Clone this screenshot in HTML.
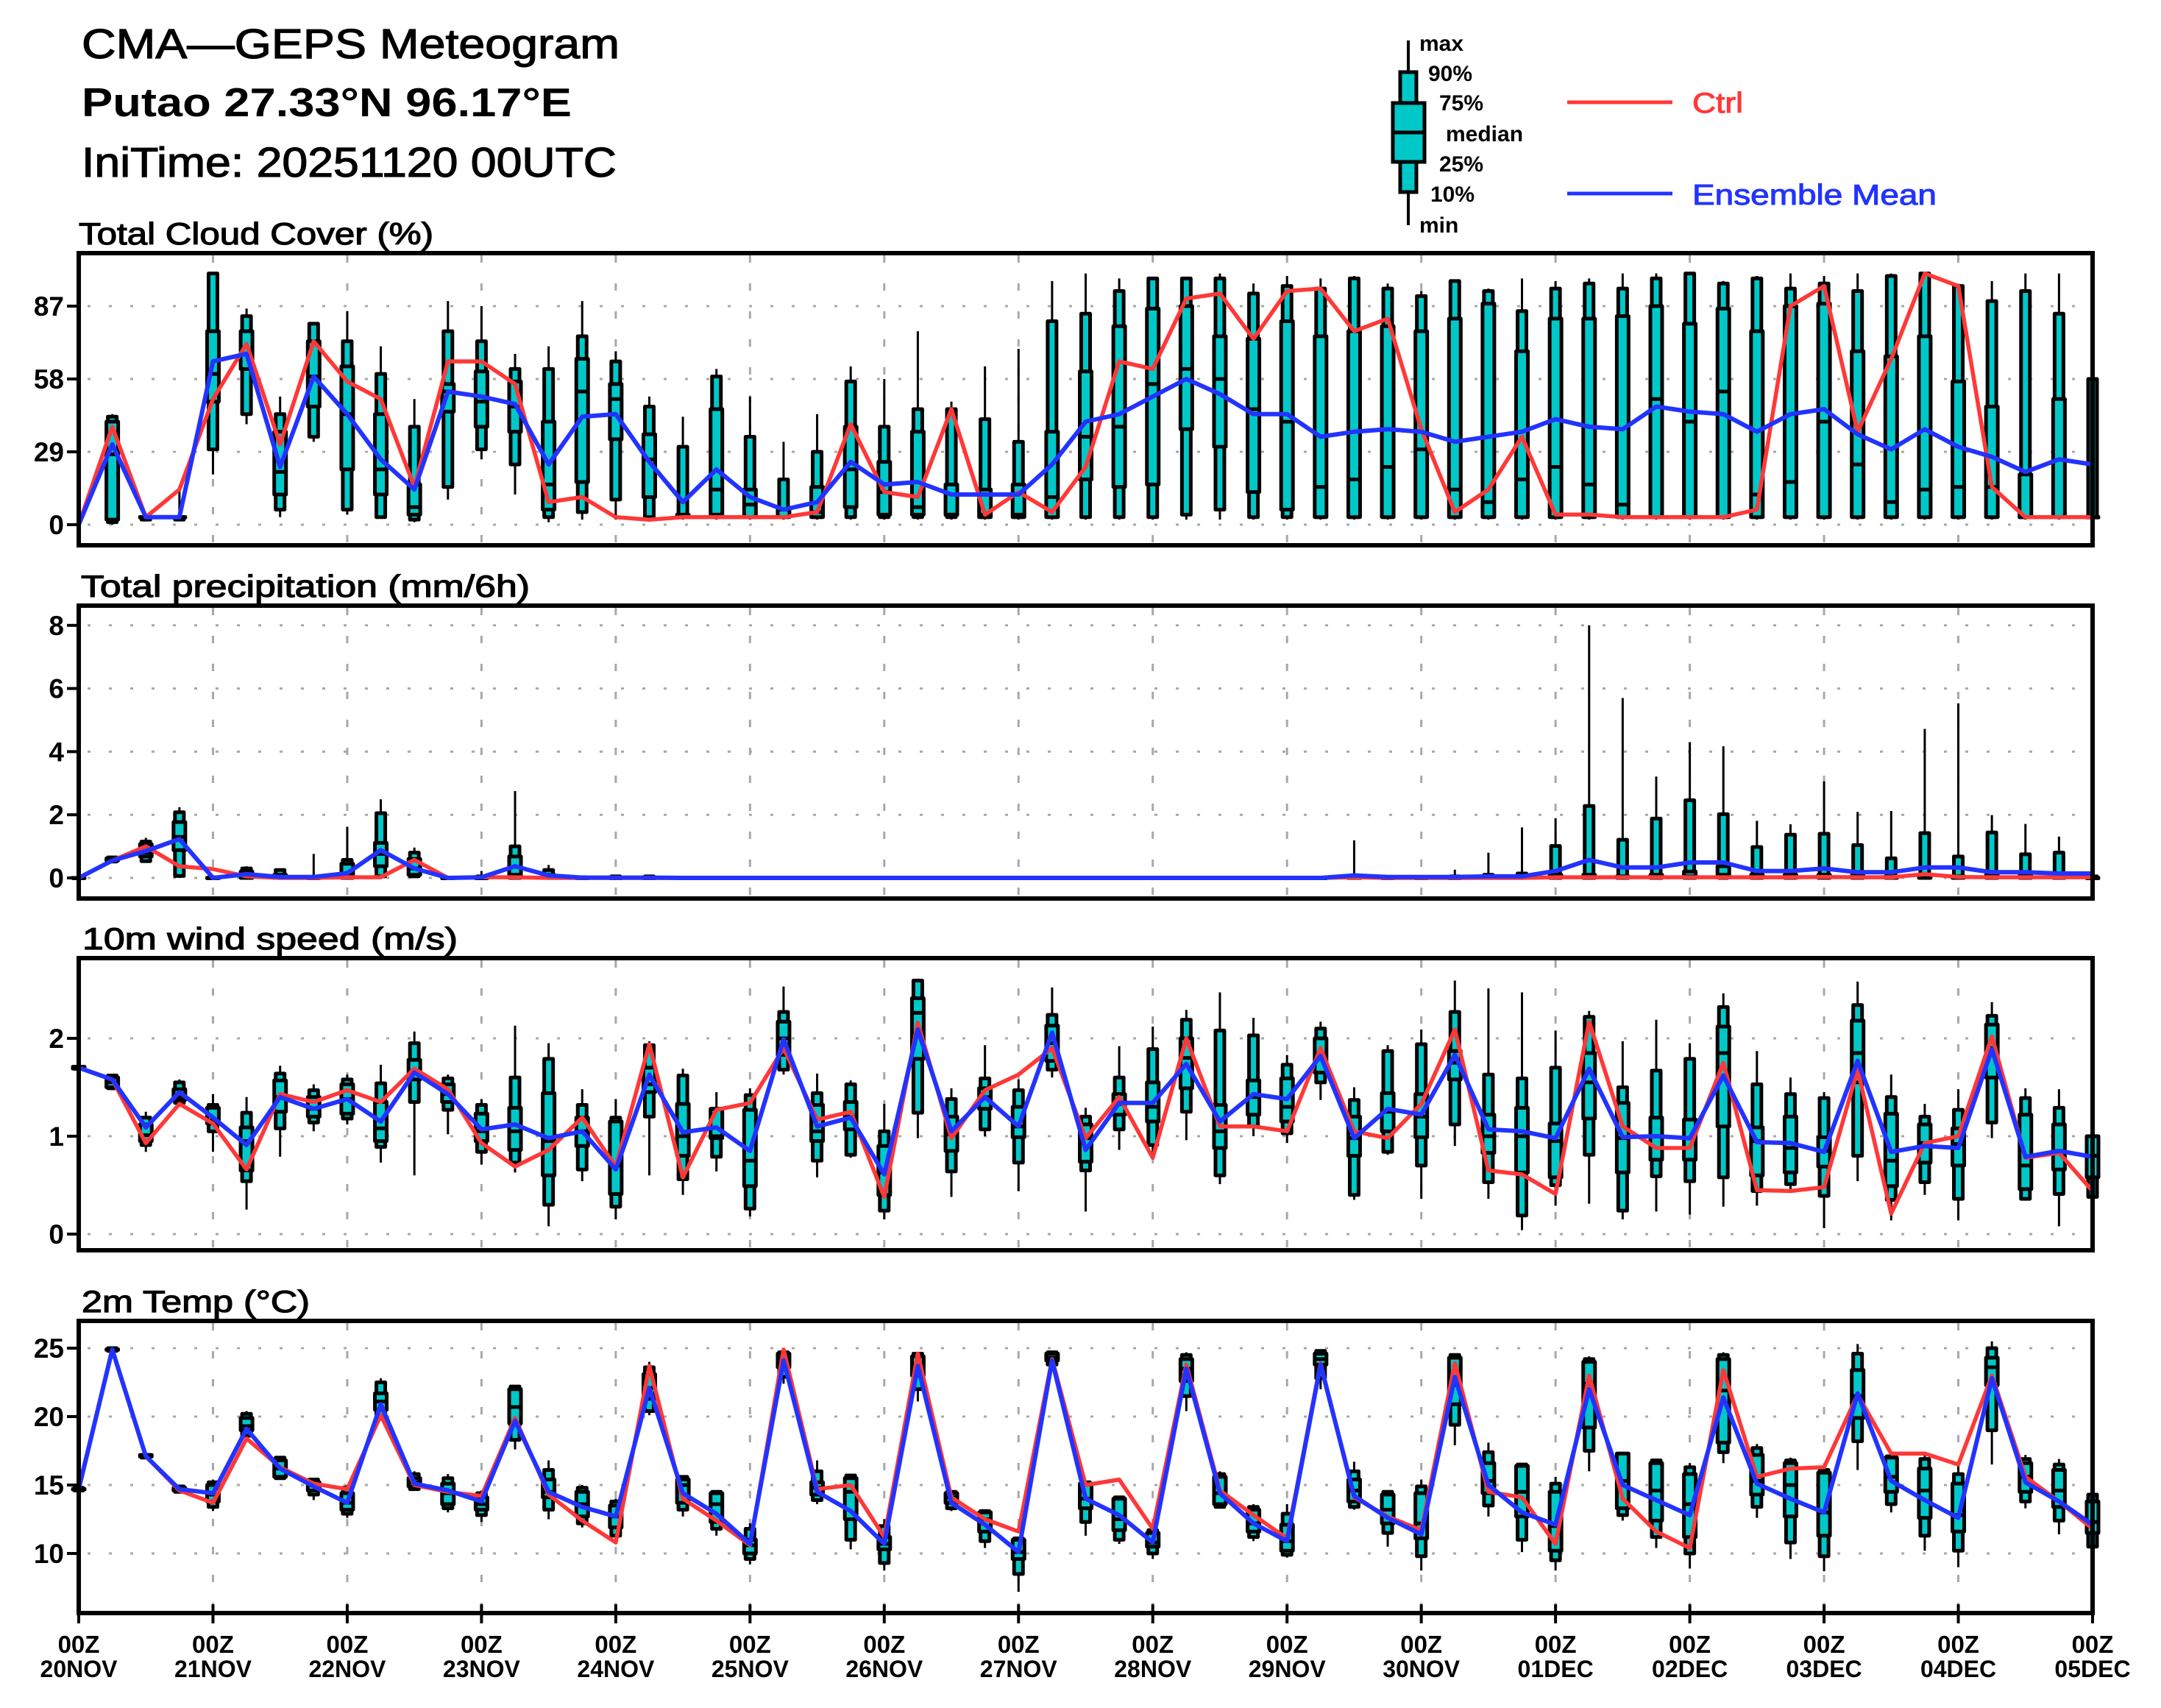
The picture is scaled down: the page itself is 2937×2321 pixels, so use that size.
<!DOCTYPE html>
<html><head><meta charset="utf-8"><title>CMA-GEPS Meteogram</title>
<style>
html,body{margin:0;padding:0;background:#fff;}
svg{display:block;font-family:"Liberation Sans",sans-serif;}
</style></head>
<body>
<svg id="chart" width="2937" height="2321" viewBox="0 0 2937 2321" xmlns="http://www.w3.org/2000/svg">
<rect x="0" y="0" width="2937" height="2321" fill="#fff"/>
<text x="111" y="79" font-size="57" stroke="#000" stroke-width="1.2" textLength="731" lengthAdjust="spacingAndGlyphs">CMA—GEPS Meteogram</text>
<text x="111" y="158" font-size="55" font-weight="bold" textLength="666" lengthAdjust="spacingAndGlyphs">Putao 27.33°N 96.17°E</text>
<text x="111" y="240" font-size="57" stroke="#000" stroke-width="1.2" textLength="727" lengthAdjust="spacingAndGlyphs">IniTime: 20251120 00UTC</text>

<g>
<line x1="1914" y1="55" x2="1914" y2="306" stroke="#000" stroke-width="4"/>
<rect x="1903" y="98" width="22" height="163" fill="#00c8c8" stroke="#000" stroke-width="5"/>
<rect x="1893" y="140" width="43" height="80" fill="#00c8c8" stroke="#000" stroke-width="5"/>
<line x1="1893" y1="180" x2="1936" y2="180" stroke="#000" stroke-width="5"/>
<g font-size="30" font-weight="bold">
<text x="1929" y="69">max</text>
<text x="1941" y="110">90%</text>
<text x="1956" y="150">75%</text>
<text x="1965" y="192">median</text>
<text x="1956" y="233">25%</text>
<text x="1944" y="274">10%</text>
<text x="1929" y="316">min</text>
</g>
</g>
<g>
<line x1="2130" y1="139" x2="2273" y2="139" stroke="#ff3838" stroke-width="5"/>
<text x="2300" y="153" font-size="39" fill="#ff3838" stroke="#ff3838" stroke-width="1" textLength="69" lengthAdjust="spacingAndGlyphs">Ctrl</text>
<line x1="2130" y1="263" x2="2273" y2="263" stroke="#2233ff" stroke-width="5"/>
<text x="2300" y="278" font-size="39" fill="#2233ff" stroke="#2233ff" stroke-width="1" textLength="332" lengthAdjust="spacingAndGlyphs">Ensemble Mean</text>
</g>
</svg>
<script>
// ---- Total cloud cover (%) ----
const cloudMin=[null,0,2,2,20,40,3,33,4,3,1,10,26,12,1,2,2,2,2,2,2,2,2,2,2,2,2,2,2,2,2,2,2,2,2,2,2,2,2,2,2,2,2,2,2,2,2,2,2,2,2,2,2,2,2,2,2,2,2,2,2];
const cloudP10=[null,1,2,2,30,44,6,35,6,3,2,15,30,24,3,5,10,3,3,3,3,3,3,3,3,3,3,3,3,3,3,3,3,4,6,3,3,3,3,3,3,3,3,3,3,3,3,3,3,3,3,3,3,3,3,3,3,3,3,3,3];
const cloudP25=[null,2,3,3,49,62,12,47,22,12,4,45,39,37,6,17,34,11,3,4,3,3,3,7,4,4,4,3,3,3,18,15,16,38,31,13,6,3,3,3,3,3,3,3,3,3,3,3,3,3,3,3,3,3,3,3,3,3,3,3,3];
const cloudMed=[null,28,3,3,60,68,21,59,44,22,7,53,49,47,16,53,50,26,3,14,8,6,5,22,13,7,4,4,4,11,35,39,56,62,58,46,41,15,18,23,30,14,9,18,23,16,8,50,41,53,12,17,41,24,9,14,15,15,3,3,3];
const cloudP75=[null,41,3,3,77,77,37,73,63,44,16,56,61,57,41,66,56,36,4,46,14,6,15,39,25,37,16,14,16,37,61,79,86,87,75,74,81,75,77,79,77,82,88,69,82,82,83,87,80,86,77,87,88,69,67,75,57,47,20,50,3];
const cloudP90=[null,43,3,3,100,83,44,80,73,60,39,77,73,62,62,75,65,47,31,59,35,18,29,57,39,46,46,42,33,81,84,93,98,98,98,92,95,94,98,94,91,97,93,85,94,96,94,98,100,96,98,94,96,93,99,100,95,89,93,84,58];
const cloudMax=[null,44,4,14,100,86,51,80,85,71,50,89,87,68,71,89,69,51,43,62,51,33,44,63,58,77,49,63,70,97,100,98,98,98,100,96,99,98,99,96,93,97,94,98,97,98,100,100,100,97,99,100,99,100,100,100,95,97,100,100,87];
const cloudCtrl=[0,39,3,14,50,72,32,73,57,50,15,65,65,56,9,11,3,2,3,3,3,3,5,40,13,11,46,4,13,5,23,65,62,90,92,74,93,94,77,82,38,5,14,35,4,4,3,3,3,3,6,87,95,37,66,100,95,15,3,3,3];
const cloudMean=[0,32,3,3,65,68,23,59,44,26,14,53,51,48,24,43,44,25,9,22,11,6,9,25,16,17,12,12,12,24,41,44,51,58,52,44,44,35,37,38,37,33,35,37,42,39,38,47,45,44,37,44,46,36,30,38,31,27,21,26,24];
const cloudTicks=[0,29,58,87];

// ---- Total precipitation (mm/6h) ----
const precMin=[0,0.5,0.5,0,0,0,0,0,0,0,0,0,0,0,0,0,0,0,0,0,0,0,0,0,0,0,0,0,0,0,0,0,0,0,0,0,0,0,0,0,0,0,0,0,0,0,0,0,0,0,0,0,0,0,0,0,0,0,0,0,0];
const precP10=[0,0.52,0.53,0.06,0,0,0,0,0,0.05,0.05,0,0,0,0,0,0,0,0,0,0,0,0,0,0,0,0,0,0,0,0,0,0,0,0,0,0,0,0,0,0,0,0,0,0,0,0,0,0,0,0,0,0,0,0,0,0,0,0,0,0];
const precP25=[0,0.55,0.68,0.88,0,0,0,0,0,0.37,0.1,0,0,0,0,0,0,0,0,0,0,0,0,0,0,0,0,0,0,0,0,0,0,0,0,0,0,0,0,0,0,0,0,0,0,0,0,0,0,0.02,0,0,0,0,0,0,0,0,0,0,0];
const precMed=[0,0.58,0.8,1.3,0,0.05,0,0,0.1,0.76,0.3,0,0,0.1,0,0,0,0,0,0,0,0,0,0,0,0,0,0,0,0,0,0,0,0,0,0,0,0,0,0,0,0,0,0,0.02,0.02,0.02,0.02,0.05,0.1,0.02,0.02,0.02,0.02,0.02,0.02,0.02,0.02,0.02,0.02,0];
const precP75=[0,0.62,1.07,1.77,0,0.2,0.1,0,0.45,1.11,0.6,0,0,0.68,0.1,0,0,0,0,0,0,0,0,0,0,0,0,0,0,0,0,0,0,0,0,0,0,0,0.02,0,0,0,0.02,0.05,0.1,0.1,0.05,0.1,0.2,0.37,0.1,0.1,0.1,0.08,0.05,0.1,0.05,0.1,0.08,0.05,0];
const precP90=[0,0.65,1.15,2.08,0.02,0.3,0.25,0.02,0.57,2.05,0.8,0,0.05,1.0,0.25,0.02,0.05,0.05,0,0,0,0,0,0,0,0,0,0,0,0,0,0,0,0,0,0,0,0,0.05,0,0,0.05,0.1,0.14,1.01,2.28,1.21,1.88,2.46,2.02,0.98,1.37,1.4,1.04,0.62,1.42,0.68,1.44,0.75,0.8,0.05];
const precMax=[0,0.68,1.27,2.24,0.05,0.37,0.3,0.76,1.62,2.49,0.96,0.02,0.22,2.75,0.41,0.02,0.1,0.1,0,0,0,0,0,0,0,0,0,0,0,0,0,0,0,0,0,0,0,0,1.19,0,0,0.26,0.8,1.6,1.89,8.0,5.7,3.21,4.3,4.17,1.81,1.7,3.06,2.09,2.12,4.72,5.53,1.99,1.71,1.31,0.1];
const precCtrl=[0,0.55,1.0,0.37,0.28,0.05,0,0,0.02,0.02,0.57,0,0.02,0.02,0,0,0,0,0,0,0,0,0,0,0,0,0,0,0,0,0,0,0,0,0,0,0,0,0.02,0,0,0,0,0,0.02,0.02,0.02,0.02,0.02,0.02,0.02,0.02,0.03,0.02,0.02,0.12,0.03,0.02,0.02,0.02,0.02];
const precMean=[0,0.55,0.85,1.23,0,0.12,0.03,0.03,0.15,0.88,0.3,0,0.02,0.37,0.08,0.01,0.01,0.01,0,0,0,0,0,0,0,0,0,0,0,0,0,0,0,0,0,0,0,0,0.08,0.03,0.03,0.03,0.05,0.05,0.22,0.57,0.33,0.33,0.49,0.49,0.22,0.22,0.3,0.18,0.18,0.33,0.33,0.18,0.18,0.14,0.14];
const precTicks=[0,2,4,6,8];

// ---- 10m wind speed (m/s) ----
const windMin=[1.68,1.47,0.84,1.30,0.84,0.25,0.79,1.05,1.12,0.73,0.60,1.02,0.71,0.63,0.08,0.54,0.15,0.60,0.40,0.64,0.18,1.63,0.58,0.78,0.15,0.98,0.38,1.00,0.44,1.60,0.23,0.86,0.76,0.96,0.51,1.00,0.93,1.37,0.35,0.81,0.36,0.90,0.36,0.04,0.29,0.31,0.15,0.23,0.20,0.28,0.29,0.44,0.06,0.54,0.14,0.40,0.14,0.98,0.36,0.08,0.38];
const windP10=[1.69,1.49,0.91,1.34,1.05,0.54,1.08,1.14,1.18,0.89,1.35,1.27,0.84,0.73,0.30,0.66,0.28,1.20,0.56,0.79,0.26,1.68,0.75,0.81,0.24,1.24,0.64,1.07,0.73,1.68,0.65,1.07,0.91,1.25,0.60,1.10,1.03,1.55,0.40,0.84,0.70,1.12,0.53,0.19,0.50,0.81,0.24,0.59,0.54,0.58,0.44,0.51,0.39,0.80,0.35,0.53,0.36,1.14,0.36,0.41,0.38];
const windP25=[1.69,1.50,0.95,1.37,1.13,0.65,1.25,1.20,1.23,0.95,1.58,1.35,0.95,0.86,0.60,0.90,0.41,1.45,0.80,0.98,0.49,1.83,0.95,1.07,0.40,1.79,0.85,1.28,0.99,1.77,0.74,1.22,1.15,1.49,0.88,1.22,1.15,1.65,0.80,1.05,0.99,1.58,0.83,0.63,0.58,1.18,0.63,0.76,0.76,1.10,0.60,0.63,0.69,1.55,0.49,0.73,0.70,1.60,0.46,0.66,0.58];
const windMed=[1.70,1.55,1.01,1.40,1.16,0.95,1.40,1.28,1.38,1.08,1.65,1.43,1.05,1.05,0.95,1.05,0.70,1.53,1.00,1.00,0.75,2.00,1.05,1.20,0.63,2.26,1.02,1.40,1.10,1.95,0.98,1.33,1.30,1.80,1.05,1.40,1.30,1.82,0.98,1.25,1.20,1.75,1.00,1.00,0.95,1.55,0.98,1.00,0.98,1.85,0.95,0.88,0.85,1.85,0.75,0.93,0.92,1.90,0.70,0.85,0.80];
const windP75=[1.71,1.60,1.12,1.48,1.29,1.09,1.57,1.40,1.53,1.35,1.78,1.53,1.23,1.29,1.44,1.19,1.15,1.70,1.33,1.28,1.27,2.17,1.32,1.35,0.90,2.41,1.20,1.49,1.30,2.13,1.12,1.43,1.55,2.00,1.32,1.57,1.59,2.00,1.20,1.44,1.43,1.87,1.22,1.29,1.13,1.85,1.34,1.19,1.17,2.12,1.09,1.20,0.99,2.18,1.23,1.12,1.08,2.14,1.22,1.12,1.00];
const windP90=[1.71,1.62,1.19,1.55,1.32,1.24,1.64,1.47,1.58,1.54,1.95,1.59,1.32,1.60,1.79,1.32,1.19,1.93,1.62,1.28,1.42,2.27,1.44,1.53,1.05,2.59,1.38,1.59,1.47,2.24,1.20,1.60,1.89,2.19,2.08,2.03,1.73,2.10,1.37,1.87,1.94,2.27,1.63,1.59,1.70,2.22,1.50,1.67,1.79,2.32,1.53,1.43,1.39,2.34,1.40,1.20,1.27,2.23,1.39,1.29,1.00];
const windMax=[1.72,1.63,1.25,1.58,1.43,1.40,1.72,1.53,1.63,1.73,2.07,1.63,1.38,2.13,1.95,1.48,1.38,1.97,1.69,1.45,1.49,2.53,1.64,1.57,1.33,2.61,1.49,1.93,1.58,2.52,1.29,1.92,2.12,2.29,2.47,2.21,1.83,2.17,1.50,1.93,2.09,2.59,2.51,2.47,2.08,2.28,1.97,2.19,1.95,2.46,1.87,1.60,1.45,2.58,1.63,1.33,1.48,2.37,1.49,1.48,1.42];
const windCtrl=[1.70,1.58,0.93,1.33,1.13,0.66,1.43,1.35,1.47,1.35,1.69,1.48,0.93,0.69,0.86,1.19,0.69,1.94,0.58,1.27,1.34,1.90,1.17,1.25,0.38,2.16,0.98,1.47,1.63,1.90,0.98,1.40,0.78,2.00,1.10,1.10,1.05,1.90,1.05,0.98,1.33,2.09,0.65,0.61,0.41,2.17,1.10,0.88,0.88,1.75,0.45,0.44,0.48,1.68,0.21,0.93,1.00,2.02,0.78,0.83,0.44];
const windMean=[1.70,1.58,1.09,1.45,1.19,0.91,1.40,1.28,1.38,1.15,1.65,1.43,1.07,1.12,0.98,1.05,0.66,1.63,1.04,1.09,0.85,1.99,1.10,1.19,0.61,2.09,1.05,1.40,1.10,2.06,0.86,1.34,1.34,1.74,1.15,1.43,1.38,1.82,0.98,1.28,1.22,1.83,1.07,1.05,0.98,1.69,0.99,1.00,0.98,1.62,0.94,0.93,0.84,1.77,0.84,0.90,0.88,1.89,0.79,0.85,0.79];
const windTicks=[0,1,2];

// ---- 2m Temp (°C) ----
const tempMin=[14.6,24.8,17.0,14.5,13.1,18.4,15.4,13.9,12.6,19.7,14.6,13.0,12.3,17.6,12.5,11.9,10.8,20.1,12.7,11.3,9.2,22.4,13.6,10.3,8.75,21.1,13.1,10.4,7.2,23.6,11.3,10.7,9.6,20.4,13.3,10.9,9.7,22.0,13.2,10.5,8.75,17.9,12.7,10.1,8.75,16.0,12.4,10.4,8.9,16.6,12.6,9.6,8.7,16.1,13.0,10.2,9.0,16.5,13.3,11.4,9.7];
const tempP10=[14.6,24.8,17.0,14.5,13.4,18.6,15.5,14.3,12.9,20.0,14.7,13.3,12.8,18.3,13.2,12.2,11.3,20.4,13.2,11.8,9.6,22.9,13.9,11.0,9.3,22.0,13.3,10.9,8.5,23.8,12.3,11.0,10.0,21.5,13.4,11.2,9.9,22.8,13.4,11.5,9.8,19.4,13.5,11.0,9.5,17.5,12.8,11.2,10.0,17.4,13.4,10.8,9.8,18.2,13.6,11.3,10.2,19.0,13.8,12.4,10.5];
const tempP25=[14.7,24.9,17.1,14.6,13.8,19.0,15.6,14.6,13.2,20.5,14.9,13.6,13.2,19.5,14.1,12.7,11.9,21.3,13.7,12.3,10.0,23.6,14.3,12.5,10.3,23.0,13.7,11.6,9.6,24.1,13.3,11.7,10.5,22.6,13.6,11.6,10.2,23.8,13.8,12.2,11.1,20.9,14.4,12.7,10.2,19.2,13.3,12.4,11.2,18.1,14.3,12.7,11.3,19.9,14.5,12.6,11.6,22.3,14.5,13.4,11.5];
const tempMed=[14.7,24.9,17.1,14.7,14.3,19.3,16.2,15.0,13.7,21.1,15.2,14.4,13.6,20.7,14.5,13.6,12.7,22.1,15.0,13.6,10.6,24.3,14.8,14.5,10.7,23.7,14.1,12.5,10.1,24.3,14.0,12.5,10.8,23.5,14.4,12.2,10.9,24.2,14.6,13.2,12.2,22.3,15.3,14.5,12.0,22.4,15.3,14.6,13.6,21.9,15.3,15.0,13.0,21.5,15.6,14.6,12.8,23.6,15.6,14.6,12.3];
const tempP75=[14.7,24.9,17.2,14.8,15.0,19.9,16.8,15.2,14.4,21.7,15.5,15.1,14.1,22.0,15.4,14.5,13.5,23.1,15.4,14.4,11.0,24.6,15.2,15.5,11.2,24.4,14.4,13.0,11.0,24.6,15.1,14.0,11.5,24.2,15.6,13.2,12.1,24.6,15.4,14.3,14.4,24.3,16.6,16.4,14.5,24.0,17.3,16.6,15.8,24.2,17.2,16.6,15.9,23.4,17.0,16.2,15.1,24.3,16.6,16.1,13.8];
const tempP90=[14.8,25.0,17.2,14.9,15.2,20.2,17.0,15.4,14.8,22.5,15.8,15.5,14.4,22.2,16.1,14.8,13.8,23.6,15.6,14.5,11.8,24.7,16.0,15.7,12.0,24.6,14.5,13.1,11.1,24.7,15.2,14.1,11.7,24.5,15.8,13.4,12.9,24.8,16.0,14.5,14.9,24.5,17.4,16.5,15.1,24.2,17.3,16.8,16.3,24.5,17.7,16.8,16.1,24.6,17.1,16.9,15.8,25.0,16.9,16.5,14.3];
const tempMax=[14.8,25.0,17.3,14.9,15.4,20.4,17.1,15.5,15.0,22.8,16.0,15.8,14.6,22.3,16.8,15.0,14.0,24.0,15.7,14.6,12.2,24.7,16.8,15.8,12.5,24.7,14.6,13.2,11.1,24.8,15.3,14.2,11.8,24.7,16.0,13.6,13.6,24.9,16.7,14.6,15.4,24.6,18.1,16.6,15.6,24.4,17.4,16.9,16.6,24.7,18.0,17.0,16.2,25.3,17.1,17.2,16.5,25.5,17.2,16.9,14.9];
const tempCtrl=[14.7,24.9,17.1,14.6,13.7,18.4,16.3,15.1,14.7,20.1,15.0,14.5,14.2,19.9,14.3,12.4,10.8,23.7,14.0,12.4,10.6,24.9,14.7,15.0,11.2,24.6,14.1,12.5,11.6,24.2,15.0,15.4,11.8,23.8,14.6,12.8,11.1,23.9,14.1,12.7,11.7,23.9,14.5,14.1,10.7,23.0,14.0,11.6,10.4,23.4,15.6,16.2,16.3,21.6,17.3,17.3,16.5,23.0,15.6,13.8,11.8];
const tempMean=[14.7,24.9,17.1,14.7,14.4,19.1,16.2,14.9,13.7,20.9,15.1,14.6,13.8,19.7,14.5,13.4,12.7,22.1,14.4,12.9,10.7,24.1,14.5,13.1,10.7,23.7,13.7,12.1,10.1,24.1,14.0,12.8,10.8,23.5,14.4,12.2,10.9,23.8,14.2,12.6,11.4,22.9,15.0,13.0,12.1,22.0,15.0,13.9,12.8,21.4,15.1,14.0,13.0,21.7,15.3,13.9,12.6,22.8,15.2,13.8,12.1];
const tempTicks=[10,15,20,25];

const dayLabels=["20NOV","21NOV","22NOV","23NOV","24NOV","25NOV","26NOV","27NOV","28NOV","29NOV","30NOV","01DEC","02DEC","03DEC","04DEC","05DEC"];

const NS="http://www.w3.org/2000/svg";
const svg=document.getElementById('chart');
const X0=107, X1=2844, NSTEP=60;
function xAt(i){return X0+(X1-X0)*i/NSTEP;}
function mk(tag,attrs,parent){const e=document.createElementNS(NS,tag);for(const k in attrs)e.setAttribute(k,attrs[k]);parent.appendChild(e);return e;}

function drawPanel(p){
  const g=mk('g',{},svg);
  
  
  const yAt=v=>p.y0-(v-p.v0)*p.scale;
  const t=mk('text',{x:p.titleX,y:p.top-12,'font-size':42,stroke:'#000','stroke-width':1.2,textLength:p.titleW,lengthAdjust:'spacingAndGlyphs'},g);
  t.textContent=p.title;
  
  
  for(const v of p.ticks){
    const gl=mk('line',{x1:X0+12,y1:yAt(v),x2:X1,y2:yAt(v),stroke:'#a8a8a8','stroke-width':3,'stroke-dasharray':'4 25'},g);
    
    
    const tk=mk('line',{x1:X0-16,y1:yAt(v),x2:X0,y2:yAt(v),stroke:'#000','stroke-width':4},g);
    
    
    const tl=mk('text',{x:X0-20,y:yAt(v)+13,'font-size':37,'font-weight':'bold','text-anchor':'end'},g);
    tl.textContent=String(v);
    
    
  }
  for(let d=1;d<15;d++){
    const vl=mk('line',{x1:xAt(d*4),y1:p.top+3,x2:xAt(d*4),y2:p.bottom,stroke:'#a8a8a8','stroke-width':3,'stroke-dasharray':'10 28'},g);
    
    
  }
  for(let i=0;i<=NSTEP;i++){
    if(p.mn[i]===null)continue;
    const x=xAt(i);
    const bg=mk('g',{},g);
    
    
    mk('line',{x1:x,y1:yAt(p.mx[i]),x2:x,y2:yAt(p.mn[i]),stroke:'#000','stroke-width':3},bg);
    const n1=yAt(p.p90[i]),n2=yAt(p.p10[i]);
    mk('rect',{x:x-6,y:n1,width:12,height:Math.max(n2-n1,0.5),fill:'#00c8c8',stroke:'#000','stroke-width':5,'stroke-linejoin':'round'},bg);
    const w1=yAt(p.p75[i]),w2=yAt(p.p25[i]);
    mk('rect',{x:x-8,y:w1,width:16,height:Math.max(w2-w1,0.5),fill:'#00c8c8',stroke:'#000','stroke-width':5,'stroke-linejoin':'round'},bg);
    mk('line',{x1:x-10,y1:yAt(p.md[i]),x2:x+10,y2:yAt(p.md[i]),stroke:'#000','stroke-width':5},bg);
  }
  const mkLine=(arr,color,w,nm)=>{
    const pts=arr.map((v,i)=>xAt(i).toFixed(1)+','+yAt(v).toFixed(1)).join(' ');
    const pl=mk('polyline',{points:pts,fill:'none',stroke:color,'stroke-width':w,'stroke-linejoin':'round'},g);
    
    
  };
  mkLine(p.ctrl,'#ff3838',5.5,p.name+'-ctrl-line');
  mkLine(p.mean,'#2233ff',6,p.name+'-mean-line');
  const fr=mk('rect',{x:X0,y:p.top,width:X1-X0,height:p.bottom-p.top,fill:'none',stroke:'#000','stroke-width':6},g);
  
  
}

drawPanel({name:'cloud-cover',title:'Total Cloud Cover (%)',titleX:107,titleW:482,top:344,bottom:741,y0:713,v0:0,scale:3.414,ticks:cloudTicks,
  mn:cloudMin,p10:cloudP10,p25:cloudP25,md:cloudMed,p75:cloudP75,p90:cloudP90,mx:cloudMax,ctrl:cloudCtrl,mean:cloudMean});
drawPanel({name:'precipitation',title:'Total precipitation (mm/6h)',titleX:110,titleW:610,top:823,bottom:1221,y0:1193,v0:0,scale:42.9,ticks:precTicks,
  mn:precMin,p10:precP10,p25:precP25,md:precMed,p75:precP75,p90:precP90,mx:precMax,ctrl:precCtrl,mean:precMean});
drawPanel({name:'wind-speed',title:'10m wind speed (m/s)',titleX:112,titleW:510,top:1302,bottom:1699,y0:1677,v0:0,scale:133,ticks:windTicks,
  mn:windMin,p10:windP10,p25:windP25,md:windMed,p75:windP75,p90:windP90,mx:windMax,ctrl:windCtrl,mean:windMean});
drawPanel({name:'temperature',title:'2m Temp (°C)',titleX:111,titleW:310,top:1795,bottom:2192,y0:1832,v0:25,scale:18.6,ticks:tempTicks,
  mn:tempMin,p10:tempP10,p25:tempP25,md:tempMed,p75:tempP75,p90:tempP90,mx:tempMax,ctrl:tempCtrl,mean:tempMean});

const xg=mk('g',{},svg);


for(let d=0;d<dayLabels.length;d++){
  const x=xAt(d*4);
  const tk=mk('line',{x1:x,y1:2180,x2:x,y2:2206,stroke:'#000','stroke-width':4},xg);
  
  
  const a=mk('text',{x:x,y:2246,'font-size':33,'font-weight':'bold','text-anchor':'middle'},xg);
  a.textContent='00Z';
  
  
  const b=mk('text',{x:x,y:2279,'font-size':32,'font-weight':'bold','text-anchor':'middle'},xg);
  b.textContent=dayLabels[d];
  
  
}
</script>
</body></html>
